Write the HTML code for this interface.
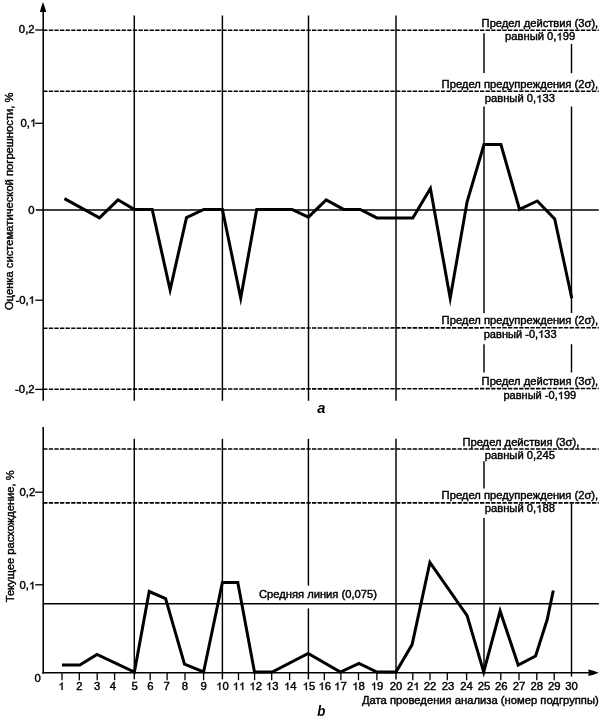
<!DOCTYPE html>
<html>
<head>
<meta charset="utf-8">
<style>
html,body{margin:0;padding:0;background:#fff;}
body{width:605px;height:722px;overflow:hidden;font-family:"Liberation Sans",sans-serif;}
svg{display:block;position:absolute;left:0;top:0;filter:grayscale(1);}
text{font-family:"Liberation Sans",sans-serif;font-size:10.4px;fill:#000;stroke:#000;stroke-width:0.4px;}
.h{fill:none;stroke:none;}
.one{fill:#000;stroke:#000;stroke-width:0.4px;vector-effect:non-scaling-stroke;}
.lt{font-weight:bold;font-style:italic;font-size:13.4px;stroke:none;}
.ax{stroke:#000;stroke-width:1.55;fill:none;}
.gr{stroke:#000;stroke-width:1.45;fill:none;}
.tk{stroke:#000;stroke-width:1.3;fill:none;}
.ds{stroke:#000;stroke-width:1.6;fill:none;stroke-dasharray:4.3 1.3;}
.dt{stroke:#000;stroke-width:3.0;fill:none;stroke-linejoin:miter;stroke-miterlimit:10;}
</style>
</head>
<body>
<svg width="605" height="722" viewBox="0 0 605 722">
<rect x="0" y="0" width="605" height="722" fill="#fff"/>
<!-- ===== TOP CHART (a) ===== -->
<line class="ax" x1="43.2" y1="9" x2="43.2" y2="400.8"/>
<polygon points="43.0,1.9 41.2,7 39.9,12 46.2,12 44.8,7" fill="#000"/>
<line class="gr" x1="134.3" y1="15.4" x2="134.3" y2="400.8"/>
<line class="gr" x1="222.4" y1="15.4" x2="222.4" y2="400.8"/>
<line class="gr" x1="308.5" y1="15.4" x2="308.5" y2="400.8"/>
<line class="gr" x1="396" y1="15.4" x2="396" y2="400.8"/>
<line class="gr" x1="484" y1="33.2" x2="484" y2="72.9"/>
<line class="gr" x1="484" y1="106.5" x2="484" y2="313.3"/>
<line class="gr" x1="484" y1="344.2" x2="484" y2="372.4"/>
<line class="gr" x1="571.5" y1="43.9" x2="571.5" y2="73.2"/>
<line class="gr" x1="571.5" y1="106.5" x2="571.5" y2="313"/>
<line class="gr" x1="571.5" y1="344.2" x2="571.5" y2="372.4"/>
<line class="gr" x1="35.8" y1="209.9" x2="598.8" y2="209.9"/>
<line class="ds" x1="43.2" y1="30.3" x2="598.8" y2="30.2"/>
<line class="ds" x1="43.2" y1="91.3" x2="598.8" y2="91.3"/>
<line class="ds" x1="43.2" y1="328.3" x2="598.8" y2="327.7"/>
<line class="ds" x1="43.2" y1="389.3" x2="598.8" y2="388.5"/>
<line class="tk" x1="35.2" y1="30.0" x2="43.2" y2="30.0"/>
<line class="tk" x1="35.2" y1="123.3" x2="43.2" y2="123.3"/>
<line class="tk" x1="35.2" y1="300.2" x2="43.2" y2="300.2"/>
<line class="tk" x1="35.2" y1="389.4" x2="43.2" y2="389.4"/>
<text transform="translate(34.6,32.7) scale(1.09,1)" text-anchor="end">0,2</text>
<text transform="translate(36.3,126.5) scale(1.09,1)" text-anchor="end">0,<tspan class="h">1</tspan></text>
<text transform="translate(34.6,213.8) scale(1.09,1)" text-anchor="end">0</text>
<text transform="translate(34.9,303.6) scale(1.09,1)" text-anchor="end">-0,<tspan class="h">1</tspan></text>
<text transform="translate(34.6,393.1) scale(1.09,1)" text-anchor="end">-0,2</text>
<text transform="translate(13.4,310.1) rotate(-90) scale(1.09,1)" text-anchor="start" textLength="199.63" lengthAdjust="spacingAndGlyphs">Оценка систематической погрешности, %</text>
<text transform="translate(598.2,27.2) scale(1.09,1)" text-anchor="end" textLength="106.97" lengthAdjust="spacingAndGlyphs">Предел действия (3σ),</text>
<text transform="translate(505,40.3) scale(1.09,1)" text-anchor="start" textLength="64.40" lengthAdjust="spacingAndGlyphs">равный 0,<tspan class="h">1</tspan>99</text>
<text transform="translate(598.2,87.6) scale(1.09,1)" text-anchor="end" textLength="143.67" lengthAdjust="spacingAndGlyphs">Предел предупреждения (2σ),</text>
<text transform="translate(484.7,102.4) scale(1.09,1)" text-anchor="start" textLength="64.40" lengthAdjust="spacingAndGlyphs">равный 0,<tspan class="h">1</tspan>33</text>
<text transform="translate(598.2,323.6) scale(1.09,1)" text-anchor="end" textLength="143.67" lengthAdjust="spacingAndGlyphs">Предел предупреждения (2σ),</text>
<text transform="translate(483.7,337.7) scale(1.09,1)" text-anchor="start" textLength="66.88" lengthAdjust="spacingAndGlyphs">равный -0,<tspan class="h">1</tspan>33</text>
<text transform="translate(598.2,384.8) scale(1.09,1)" text-anchor="end" textLength="106.97" lengthAdjust="spacingAndGlyphs">Предел действия (3σ),</text>
<text transform="translate(503.4,399.1) scale(1.09,1)" text-anchor="start" textLength="66.79" lengthAdjust="spacingAndGlyphs">равный -0,<tspan class="h">1</tspan>99</text>
<polyline class="dt" points="64.4,198.6 99.5,217.8 118,199.8 134.2,209.4 152.2,209.4 170.1,289.8 186.5,217.6 203.8,209.4 222.4,209.4 240.7,298 256.7,209.4 274,209.4 292,209.4 308.4,217.2 326.2,199.9 343.6,209.4 360.2,209.4 376.9,217.9 396,217.9 412.8,217.9 430.4,188.5 450.2,298.2 467.1,201.8 484,144.5 500.9,144.5 519.5,209.4 537.3,201 554.7,219 571.8,298.3"/>
<text transform="translate(317.2,412.9) scale(0.98,1)" class="lt" style="font-size:15px">a</text>
<!-- ===== BOTTOM CHART (b) ===== -->
<line class="ax" x1="43.2" y1="427.1" x2="43.2" y2="673.65"/>
<line class="ax" x1="42.400000000000006" y1="672.8" x2="590" y2="672.8"/>
<polygon points="598.8,672.8 593.5,670.8 588.2,669.5 588.9,672.8 588.2,676.1 593.5,674.8" fill="#000"/>
<line class="gr" x1="134.3" y1="438.8" x2="134.3" y2="679.4"/>
<line class="gr" x1="222.4" y1="438.8" x2="222.4" y2="679.4"/>
<line class="gr" x1="396" y1="438.8" x2="396" y2="679.4"/>
<line class="gr" x1="308.4" y1="438.8" x2="308.4" y2="585.6"/>
<line class="gr" x1="308.4" y1="608.4" x2="308.4" y2="679.4"/>
<line class="gr" x1="484" y1="461.3" x2="484" y2="488.6"/>
<line class="gr" x1="484" y1="518" x2="484" y2="673.5"/>
<line class="gr" x1="571.5" y1="503.7" x2="571.5" y2="676.5"/>
<line class="gr" x1="43.2" y1="603.8" x2="598.8" y2="603.8"/>
<line class="ds" x1="43.2" y1="449.0" x2="598.8" y2="449.0"/>
<line class="ds" x1="43.2" y1="502.9" x2="598.8" y2="502.9"/>
<line class="tk" x1="35.2" y1="492.2" x2="43.2" y2="492.2"/>
<line class="tk" x1="35.2" y1="584.8" x2="43.2" y2="584.8"/>
<text transform="translate(35.3,495.9) scale(1.09,1)" text-anchor="end">0,2</text>
<text transform="translate(35.3,589.2) scale(1.09,1)" text-anchor="end">0,<tspan class="h">1</tspan></text>
<text transform="translate(40.7,682.0) scale(1.09,1)" text-anchor="end">0</text>
<text transform="translate(13.8,602.3) rotate(-90) scale(1.09,1)" text-anchor="start" textLength="121.10" lengthAdjust="spacingAndGlyphs">Текущее расхождение, %</text>
<line class="tk" x1="62" y1="672.8" x2="62" y2="680.2"/>
<line class="tk" x1="79.3" y1="672.8" x2="79.3" y2="680.2"/>
<line class="tk" x1="97.2" y1="672.8" x2="97.2" y2="680.2"/>
<line class="tk" x1="114.6" y1="672.8" x2="114.6" y2="680.2"/>
<line class="tk" x1="150.2" y1="672.8" x2="150.2" y2="680.2"/>
<line class="tk" x1="167.1" y1="672.8" x2="167.1" y2="680.2"/>
<line class="tk" x1="185" y1="672.8" x2="185" y2="680.2"/>
<line class="tk" x1="203.6" y1="672.8" x2="203.6" y2="680.2"/>
<line class="tk" x1="238.5" y1="672.8" x2="238.5" y2="680.2"/>
<line class="tk" x1="254.6" y1="672.8" x2="254.6" y2="680.2"/>
<line class="tk" x1="271.7" y1="672.8" x2="271.7" y2="680.2"/>
<line class="tk" x1="289.6" y1="672.8" x2="289.6" y2="680.2"/>
<line class="tk" x1="324.3" y1="672.8" x2="324.3" y2="680.2"/>
<line class="tk" x1="340.9" y1="672.8" x2="340.9" y2="680.2"/>
<line class="tk" x1="358.5" y1="672.8" x2="358.5" y2="680.2"/>
<line class="tk" x1="376.9" y1="672.8" x2="376.9" y2="680.2"/>
<line class="tk" x1="412.8" y1="672.8" x2="412.8" y2="680.2"/>
<line class="tk" x1="430" y1="672.8" x2="430" y2="680.2"/>
<line class="tk" x1="447.3" y1="672.8" x2="447.3" y2="680.2"/>
<line class="tk" x1="466.6" y1="672.8" x2="466.6" y2="680.2"/>
<line class="tk" x1="500.8" y1="672.8" x2="500.8" y2="680.2"/>
<line class="tk" x1="519" y1="672.8" x2="519" y2="680.2"/>
<line class="tk" x1="536.8" y1="672.8" x2="536.8" y2="680.2"/>
<line class="tk" x1="554.2" y1="672.8" x2="554.2" y2="680.2"/>
<text transform="translate(61.5,690) scale(1.09,1)" text-anchor="middle"><tspan class="h">1</tspan></text>
<text transform="translate(79.3,690) scale(1.09,1)" text-anchor="middle">2</text>
<text transform="translate(97.2,690) scale(1.09,1)" text-anchor="middle">3</text>
<text transform="translate(112.8,690) scale(1.09,1)" text-anchor="middle">4</text>
<text transform="translate(134.7,690) scale(1.09,1)" text-anchor="middle">5</text>
<text transform="translate(150.3,690) scale(1.09,1)" text-anchor="middle">6</text>
<text transform="translate(166.6,690) scale(1.09,1)" text-anchor="middle">7</text>
<text transform="translate(185.0,690) scale(1.09,1)" text-anchor="middle">8</text>
<text transform="translate(203.6,690) scale(1.09,1)" text-anchor="middle">9</text>
<text transform="translate(222.4,690) scale(1.09,1)" text-anchor="middle"><tspan class="h">1</tspan>0</text>
<text transform="translate(239,690) scale(1.09,1)" text-anchor="middle"><tspan class="h">1</tspan><tspan class="h">1</tspan></text>
<text transform="translate(255.7,690) scale(1.09,1)" text-anchor="middle"><tspan class="h">1</tspan>2</text>
<text transform="translate(272.2,690) scale(1.09,1)" text-anchor="middle"><tspan class="h">1</tspan>3</text>
<text transform="translate(290.3,690) scale(1.09,1)" text-anchor="middle"><tspan class="h">1</tspan>4</text>
<text transform="translate(308.9,690) scale(1.09,1)" text-anchor="middle"><tspan class="h">1</tspan>5</text>
<text transform="translate(324.8,690) scale(1.09,1)" text-anchor="middle"><tspan class="h">1</tspan>6</text>
<text transform="translate(340.4,690) scale(1.09,1)" text-anchor="middle"><tspan class="h">1</tspan>7</text>
<text transform="translate(358.5,690) scale(1.09,1)" text-anchor="middle"><tspan class="h">1</tspan>8</text>
<text transform="translate(377.1,690) scale(1.09,1)" text-anchor="middle"><tspan class="h">1</tspan>9</text>
<text transform="translate(396,690) scale(1.09,1)" text-anchor="middle">20</text>
<text transform="translate(413.3,690) scale(1.09,1)" text-anchor="middle">2<tspan class="h">1</tspan></text>
<text transform="translate(430,690) scale(1.09,1)" text-anchor="middle">22</text>
<text transform="translate(448,690) scale(1.09,1)" text-anchor="middle">23</text>
<text transform="translate(466.6,690) scale(1.09,1)" text-anchor="middle">24</text>
<text transform="translate(484,690) scale(1.09,1)" text-anchor="middle">25</text>
<text transform="translate(501.2,690) scale(1.09,1)" text-anchor="middle">26</text>
<text transform="translate(519,690) scale(1.09,1)" text-anchor="middle">27</text>
<text transform="translate(536.8,690) scale(1.09,1)" text-anchor="middle">28</text>
<text transform="translate(554.2,690) scale(1.09,1)" text-anchor="middle">29</text>
<text transform="translate(571.5,690) scale(1.09,1)" text-anchor="middle">30</text>
<text transform="translate(579.3,445.6) scale(1.09,1)" text-anchor="end" textLength="107.25" lengthAdjust="spacingAndGlyphs">Предел действия (3σ),</text>
<text transform="translate(484.7,459.2) scale(1.09,1)" text-anchor="start" textLength="64.40" lengthAdjust="spacingAndGlyphs">равный 0,245</text>
<text transform="translate(598.2,499.4) scale(1.09,1)" text-anchor="end" textLength="143.67" lengthAdjust="spacingAndGlyphs">Предел предупреждения (2σ),</text>
<text transform="translate(484.7,512.4) scale(1.09,1)" text-anchor="start" textLength="64.40" lengthAdjust="spacingAndGlyphs">равный 0,<tspan class="h">1</tspan>88</text>
<text transform="translate(259.0,597.7) scale(1.09,1)" text-anchor="start" textLength="108.17" lengthAdjust="spacingAndGlyphs">Средняя линия (0,075)</text>
<text transform="translate(598.7,703.8) scale(1.09,1)" text-anchor="end" textLength="217.16" lengthAdjust="spacingAndGlyphs">Дата проведения анализа (номер подгруппы)</text>
<polyline class="dt" points="62,665 79.8,665 97,654.5 134.4,672 149.2,591.5 165.6,598.6 184.5,664.2 203.6,672 222.4,582.5 237.8,582.5 254.5,672 272.2,672 308.2,653.5 340.4,672 359,663.5 376.9,672 396,672 412.1,644.6 429.9,562.5 467.1,615.6 483.7,672 500.1,611 518.2,665 535.6,656 547.2,619.5 553.3,590.5"/>
<text transform="translate(317.3,715.7) scale(0.86,1)" class="lt" style="font-size:15.4px">b</text>
<g><path class="one" transform="translate(30.00,126.50) rotate(0.0) scale(0.005532,-0.005078)" d="M763 0H583V1147Q518 1085 412.5 1023Q307 961 223 930V1104Q374 1175 487 1276Q600 1377 647 1472H763Z"/>
<path class="one" transform="translate(28.60,303.60) rotate(0.0) scale(0.005532,-0.005078)" d="M763 0H583V1147Q518 1085 412.5 1023Q307 961 223 930V1104Q374 1175 487 1276Q600 1377 647 1472H763Z"/>
<path class="one" transform="translate(556.45,40.30) rotate(0.0) scale(0.005485,-0.005078)" d="M763 0H583V1147Q518 1085 412.5 1023Q307 961 223 930V1104Q374 1175 487 1276Q600 1377 647 1472H763Z"/>
<path class="one" transform="translate(536.15,102.40) rotate(0.0) scale(0.005485,-0.005078)" d="M763 0H583V1147Q518 1085 412.5 1023Q307 961 223 930V1104Q374 1175 487 1276Q600 1377 647 1472H763Z"/>
<path class="one" transform="translate(538.12,337.70) rotate(0.0) scale(0.005409,-0.005078)" d="M763 0H583V1147Q518 1085 412.5 1023Q307 961 223 930V1104Q374 1175 487 1276Q600 1377 647 1472H763Z"/>
<path class="one" transform="translate(557.74,399.10) rotate(0.0) scale(0.005402,-0.005078)" d="M763 0H583V1147Q518 1085 412.5 1023Q307 961 223 930V1104Q374 1175 487 1276Q600 1377 647 1472H763Z"/>
<path class="one" transform="translate(29.00,589.20) rotate(0.0) scale(0.005532,-0.005078)" d="M763 0H583V1147Q518 1085 412.5 1023Q307 961 223 930V1104Q374 1175 487 1276Q600 1377 647 1472H763Z"/>
<path class="one" transform="translate(58.35,690.00) rotate(0.0) scale(0.005532,-0.005078)" d="M763 0H583V1147Q518 1085 412.5 1023Q307 961 223 930V1104Q374 1175 487 1276Q600 1377 647 1472H763Z"/>
<path class="one" transform="translate(216.10,690.00) rotate(0.0) scale(0.005532,-0.005078)" d="M763 0H583V1147Q518 1085 412.5 1023Q307 961 223 930V1104Q374 1175 487 1276Q600 1377 647 1472H763Z"/>
<path class="one" transform="translate(232.70,690.00) rotate(0.0) scale(0.005532,-0.005078)" d="M763 0H583V1147Q518 1085 412.5 1023Q307 961 223 930V1104Q374 1175 487 1276Q600 1377 647 1472H763Z"/>
<path class="one" transform="translate(239.00,690.00) rotate(0.0) scale(0.005532,-0.005078)" d="M763 0H583V1147Q518 1085 412.5 1023Q307 961 223 930V1104Q374 1175 487 1276Q600 1377 647 1472H763Z"/>
<path class="one" transform="translate(249.40,690.00) rotate(0.0) scale(0.005532,-0.005078)" d="M763 0H583V1147Q518 1085 412.5 1023Q307 961 223 930V1104Q374 1175 487 1276Q600 1377 647 1472H763Z"/>
<path class="one" transform="translate(265.90,690.00) rotate(0.0) scale(0.005532,-0.005078)" d="M763 0H583V1147Q518 1085 412.5 1023Q307 961 223 930V1104Q374 1175 487 1276Q600 1377 647 1472H763Z"/>
<path class="one" transform="translate(284.00,690.00) rotate(0.0) scale(0.005532,-0.005078)" d="M763 0H583V1147Q518 1085 412.5 1023Q307 961 223 930V1104Q374 1175 487 1276Q600 1377 647 1472H763Z"/>
<path class="one" transform="translate(302.60,690.00) rotate(0.0) scale(0.005532,-0.005078)" d="M763 0H583V1147Q518 1085 412.5 1023Q307 961 223 930V1104Q374 1175 487 1276Q600 1377 647 1472H763Z"/>
<path class="one" transform="translate(318.50,690.00) rotate(0.0) scale(0.005532,-0.005078)" d="M763 0H583V1147Q518 1085 412.5 1023Q307 961 223 930V1104Q374 1175 487 1276Q600 1377 647 1472H763Z"/>
<path class="one" transform="translate(334.10,690.00) rotate(0.0) scale(0.005532,-0.005078)" d="M763 0H583V1147Q518 1085 412.5 1023Q307 961 223 930V1104Q374 1175 487 1276Q600 1377 647 1472H763Z"/>
<path class="one" transform="translate(352.20,690.00) rotate(0.0) scale(0.005532,-0.005078)" d="M763 0H583V1147Q518 1085 412.5 1023Q307 961 223 930V1104Q374 1175 487 1276Q600 1377 647 1472H763Z"/>
<path class="one" transform="translate(370.80,690.00) rotate(0.0) scale(0.005532,-0.005078)" d="M763 0H583V1147Q518 1085 412.5 1023Q307 961 223 930V1104Q374 1175 487 1276Q600 1377 647 1472H763Z"/>
<path class="one" transform="translate(413.30,690.00) rotate(0.0) scale(0.005532,-0.005078)" d="M763 0H583V1147Q518 1085 412.5 1023Q307 961 223 930V1104Q374 1175 487 1276Q600 1377 647 1472H763Z"/>
<path class="one" transform="translate(536.15,512.40) rotate(0.0) scale(0.005485,-0.005078)" d="M763 0H583V1147Q518 1085 412.5 1023Q307 961 223 930V1104Q374 1175 487 1276Q600 1377 647 1472H763Z"/></g>
</svg>
</body>
</html>
